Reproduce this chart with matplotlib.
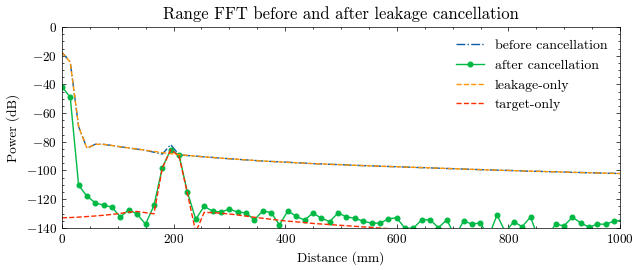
"""Range FFT avant / après annulation de la fuite"""

import matplotlib.pyplot as plt
import numpy as np

# Style proche de SciencePlots (ticks internes, police serif)
plt.rcParams.update({
    'font.family': 'serif',
    'font.serif': ['cmr10'],
    'mathtext.fontset': 'cm',
    'axes.formatter.use_mathtext': True,
    'axes.linewidth': 0.5,
    'xtick.direction': 'in', 'ytick.direction': 'in',
    'xtick.top': True, 'ytick.right': True,
    'xtick.minor.visible': True, 'ytick.minor.visible': True,
    'xtick.major.size': 3, 'ytick.major.size': 3,
    'xtick.minor.size': 1.5, 'ytick.minor.size': 1.5,
    'xtick.major.width': 0.5, 'ytick.major.width': 0.5,
    'xtick.minor.width': 0.5, 'ytick.minor.width': 0.5,
    'legend.frameon': False,
})

# Bins de distance (pas de ~15 mm)
bin_index = np.arange(68)
bin_step_mm = 14.99

leakage_db = [-17.6, -24.5, -69.5, -84.5, -81.7, -81.8, -82.6, -83.5, -84.3, -85.1,
              -85.9, -86.7, -87.6, -88.3, -89.0, -89.5, -90.0, -90.5, -90.9, -91.4,
              -91.8, -92.2, -92.6, -93.0, -93.4, -93.7, -94.0, -94.3, -94.6, -94.9,
              -95.2, -95.4, -95.7, -95.9, -96.1, -96.4, -96.6, -96.8, -97.0, -97.2,
              -97.4, -97.6, -97.8, -98.0, -98.2, -98.4, -98.6, -98.8, -99.0, -99.2,
              -99.4, -99.6, -99.8, -99.9, -100.1, -100.3, -100.5, -100.6, -100.8, -100.9,
              -101.1, -101.3, -101.4, -101.6, -101.7, -101.9, -102.0, -102.2]

before_db = [-17.6, -24.5, -69.5, -84.5, -81.7, -81.8, -82.6, -83.5, -84.3, -85.1,
             -85.9, -87.3, -88.6, -82.0, -89.1, -89.6, -90.0, -90.5, -90.9, -91.4,
             -91.8, -92.2, -92.6, -93.0, -93.4, -93.7, -94.0, -94.3, -94.6, -94.9,
             -95.2, -95.4, -95.7, -95.9, -96.1, -96.4, -96.6, -96.8, -97.0, -97.2,
             -97.4, -97.6, -97.8, -98.0, -98.2, -98.4, -98.6, -98.8, -99.0, -99.2,
             -99.4, -99.6, -99.8, -99.9, -100.1, -100.3, -100.5, -100.6, -100.8, -100.9,
             -101.1, -101.3, -101.4, -101.6, -101.7, -101.9, -102.0, -102.2]

after_db = [-41.5, -49.0, -110.3, -117.9, -122.6, -124.2, -125.6, -132.5, -127.2, -130.5,
            -137.4, -124.4, -98.0, -85.5, -89.3, -115.1, -134.0, -124.9, -128.4, -128.9,
            -127.0, -128.9, -129.6, -134.4, -128.2, -129.3, -137.9, -128.2, -131.9, -134.6,
            -129.6, -133.3, -135.6, -129.6, -132.3, -133.3, -135.3, -136.7, -136.7, -133.8,
            -132.9, -140.3, -140.2, -134.4, -134.4, -139.8, -134.4, -146.0, -135.1, -137.4,
            -136.5, -146.0, -131.0, -143.0, -135.6, -139.2, -132.4, -148.0, -146.0, -137.4,
            -138.6, -132.6, -136.5, -139.5, -137.4, -137.4, -135.3, -134.5]

target_db = [-133.0, -132.8, -132.5, -132.1, -131.7, -131.2, -130.6, -129.9, -129.0, -128.6,
             -129.4, -130.2, -98.5, -85.5, -90.0, -116.0, -143.0, -129.2, -129.4, -129.8,
             -130.3, -131.0, -131.8, -132.6, -133.3, -134.0, -134.7, -135.3, -135.8, -136.3,
             -136.9, -137.3, -137.7, -138.1, -138.5, -138.9, -139.3, -139.7, -140.1, -140.5,
             -140.9, -141.3, -141.7, -142.1, -142.5, -142.9, -143.3, -143.7, -144.1, -144.5,
             -144.9, -145.3, -145.7, -146.1, -146.5, -146.9, -147.3, -147.7, -148.1, -148.5,
             -148.9, -149.3, -149.7, -150.1, -150.5, -150.9, -151.3, -151.7]

distance_mm = bin_index * bin_step_mm

fig = plt.figure(figsize=(6.38, 2.70), dpi=100)
ax = fig.add_axes([0.097, 0.156, 0.875, 0.744])

ax.plot(distance_mm, before_db, '-.', color='#0C5DA5', lw=1, label='before cancellation')
ax.plot(distance_mm, after_db, '-', color='#00B945', lw=1, marker='o', ms=3.3,
        label='after cancellation')
ax.plot(distance_mm, leakage_db, '--', color='#FF9500', lw=1, label='leakage-only')
ax.plot(distance_mm, target_db, '--', color='#FF2C00', lw=1, label='target-only')

ax.set_xlim(0, 1000)
ax.set_ylim(-140, 0)
ax.set_xlabel('Distance (mm)', fontsize=9.6)
ax.set_ylabel('Power (dB)', fontsize=9.6)
ax.set_title('Range FFT before and after leakage cancellation', fontsize=12)
ax.tick_params(labelsize=9.5)
ax.legend(loc='upper right', fontsize=10)

fig.savefig('out.png', dpi=100)
